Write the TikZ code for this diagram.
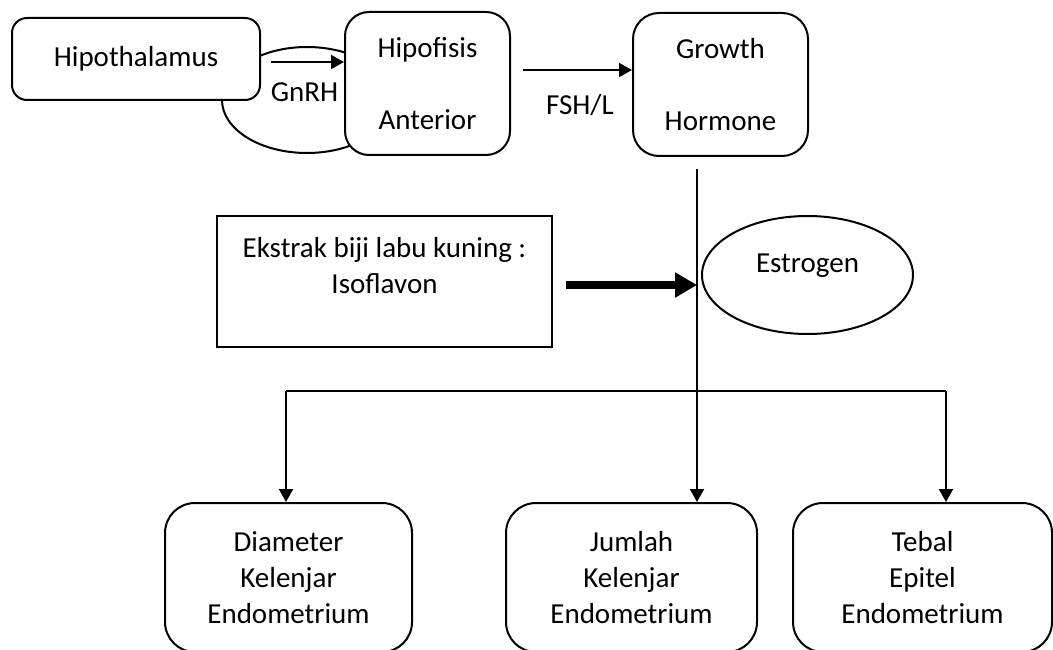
\documentclass[tikz,border=0pt]{standalone}
\usepackage{fontspec}
\setmainfont{Carlito}
\usetikzlibrary{arrows.meta,shapes.geometric}
\begin{document}
\begin{tikzpicture}[x=1pt,y=-1pt,
  every node/.style={font=\fontsize{29}{36}\selectfont, inner sep=0pt},
  rbox/.style={draw, line width=2pt, fill=white, rounded corners=#1, align=center},
  sbox/.style={draw, line width=2pt, fill=white},
  oval/.style={draw, ellipse, line width=2pt, fill=white},
  arr/.style={line width=2pt, -{Triangle[length=13pt,width=14pt]}},
  thinline/.style={line width=1.3pt},
  fatarr/.style={line width=8pt, -{Triangle[length=22pt,width=24pt]}}]
\useasboundingbox (0,0) rectangle (1053,650);

% loop behind the top boxes
\node[draw, ellipse, line width=2pt, minimum width=170pt, minimum height=106pt] (loop) at (307,100) {};

% top row
\node[rbox=15pt, minimum width=248pt, minimum height=82pt] (hypo) at (136,59) {Hipothalamus};
\node[rbox=24pt, minimum width=165pt, minimum height=143pt] (hipof) at (427.5,83.5) {Hipofisis\\[36pt]Anterior};
\node[rbox=26pt, minimum width=175pt, minimum height=143pt] (growth) at (720.5,84.5) {Growth\\[36pt]Hormone};

% middle
\node[sbox, minimum width=335pt, minimum height=131pt,
  label={[yshift=16pt, align=center]center:{Ekstrak biji labu kuning :\\Isoflavon}}] (ekstrak) at (384.5,281.5) {};
\node[oval, minimum width=211pt, minimum height=118pt,
  label={[yshift=9.5pt]center:Estrogen}] (estr) at (807.5,275) {};

% bottom row
\node[rbox=30pt, minimum width=247pt, minimum height=149pt] (diam) at (288.5,577.5) {Diameter\\Kelenjar\\Endometrium};
\node[rbox=30pt, minimum width=251pt, minimum height=149pt] (jumlah) at (631.5,577.5) {Jumlah\\Kelenjar\\Endometrium};
\node[rbox=30pt, minimum width=259pt, minimum height=149pt] (tebal) at (922.5,577.5) {Tebal\\Epitel\\Endometrium};

% top connectors
\draw[arr] ([xshift=10pt,yshift=-3pt]hypo.east) -- ([yshift=-3pt]hypo.east -| hipof.west);
\node (gnrh) at (304.5,92) {GnRH};
\draw[arr] ([xshift=12pt,yshift=13.5pt]hipof.east) -- ([yshift=13.5pt]hipof.east -| growth.west);
\node (fsh) at (580,105) {FSH/L};

% vertical trunk
\coordinate (vtop) at ([xshift=-23.5pt,yshift=-12pt]growth.south);
\coordinate (split) at (vtop |- 0,391);
\draw[thinline] (vtop) -- (split);
\draw[arr] (split) -- (split |- jumlah.north);

% thick arrow
\draw[fatarr] ([xshift=13pt,yshift=-3.5pt]ekstrak.east) -- ([yshift=-3.5pt]ekstrak.east -| vtop);

% branches
\coordinate (bl) at ([xshift=-2.5pt]diam.north |- split);
\coordinate (br) at ([xshift=23.5pt]tebal.north |- split);
\draw[line width=1.5pt] (bl) -- (br);
\draw[arr] (bl) -- (bl |- diam.north);
\draw[arr] (br) -- (br |- tebal.north);
\end{tikzpicture}
\end{document}
